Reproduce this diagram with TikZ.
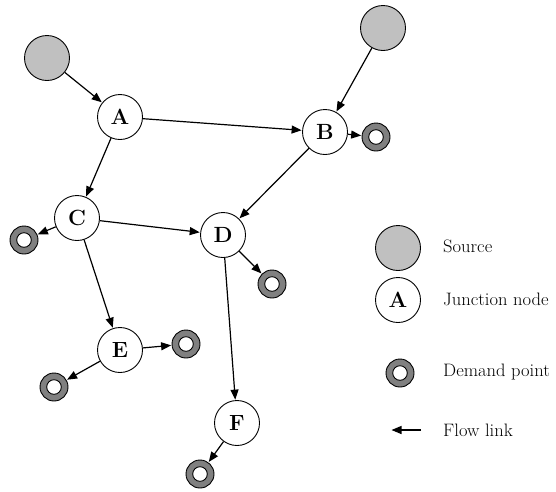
\documentclass[tikz,border=0pt]{standalone}
\usetikzlibrary{arrows.meta}
\definecolor{srcgray}{HTML}{C0C0C0}
\definecolor{demgray}{HTML}{808080}
\newcommand{\wlbl}[1]{\scalebox{1.03}[1]{#1}}
\begin{document}
\begin{tikzpicture}[x=1pt,y=-1pt,
  every node/.style={inner sep=0pt},
  src/.style={circle, draw, line width=0.9pt, fill=srcgray, minimum size=45pt},
  junc/.style={circle, draw, line width=0.9pt, fill=white, minimum size=45pt, font=\fontsize{22}{26}\selectfont\bfseries},
  demand/.style={circle, draw, line width=0.9pt, fill=demgray, minimum size=28pt,
    path picture={\draw[line width=0.9pt, fill=white] (path picture bounding box.center) circle (7.3pt);}},
  flow/.style={line width=1.2pt, -{Triangle[length=10pt,width=8pt]}, shorten >=0.5pt},
  lbl/.style={anchor=west, font=\fontsize{18}{21}\selectfont}
]
\useasboundingbox (0,0) rectangle (556,491);
% nodes
\node[src] (S1) at (47,58) {};
\node[src] (S2) at (383,28) {};
\node[junc] (A) at (120,117) {A};
\node[junc] (B) at (325,132) {B};
\node[junc] (C) at (77,218) {C};
\node[junc] (D) at (223,235) {D};
\node[junc] (E) at (120,350) {E};
\node[junc] (F) at (237,423) {F};
\node[demand] (dB) at (376,137) {};
\node[demand] (dC) at (24,240) {};
\node[demand] (dD) at (272,284) {};
\node[demand] (dE1) at (186,344) {};
\node[demand] (dE2) at (54,387) {};
\node[demand] (dF) at (200,474) {};
% links
\draw[flow] (S1) -- (A);
\draw[flow] (S2) -- (B);
\draw[flow] (A) -- (B);
\draw[flow] (A) -- (C);
\draw[flow] (B) -- (D);
\draw[flow] (B) -- (dB);
\draw[flow] (C) -- (D);
\draw[flow] (C) -- (dC);
\draw[flow] (C) -- (E);
\draw[flow] (D) -- (dD);
\draw[flow] (D) -- (F);
\draw[flow] (E) -- (dE1);
\draw[flow] (E) -- (dE2);
\draw[flow] (F) -- (dF);
% legend
\node[src] (LS) at (398,248) {};
\node[junc] (LA) at (398,300) {A};
\node[demand] (LD) at (400,373) {};
\coordinate (LF1) at (421,430);
\coordinate (LF2) at (391,430);
\draw[flow] (LF1) -- (LF2);
\node[lbl] (TS) at (443,246) {\wlbl{Source}};
\node[lbl] (TA) at (443,299) {\wlbl{Junction node}};
\node[lbl] (TD) at (443,372) {\wlbl{Demand point}};
\node[lbl] (TF) at (443,430) {\wlbl{Flow link}};
\end{tikzpicture}
\end{document}
